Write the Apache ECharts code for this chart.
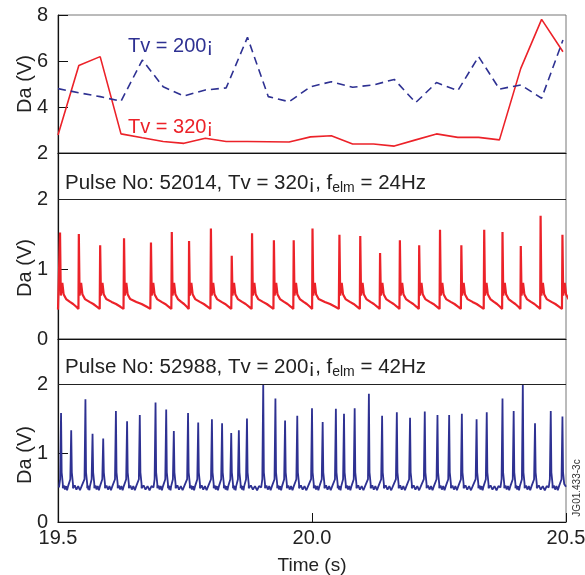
<!DOCTYPE html>
<html>
<head>
<meta charset="utf-8">
<script src="https://cdn.jsdelivr.net/npm/echarts@6/dist/echarts.min.js"></script>
<style>
  html, body { margin: 0; padding: 0; background: #fff; }
  #main { width: 585px; height: 575px; }
</style>
</head>
<body>
<div id="main"></div>
<script>
var FONT = 'Liberation Sans';
var RED = '#ec2229';
var BLUE = '#2e3192';

// top panel: averaged Da, Tv = 320 (red) and Tv = 200 (blue dashed)
var avgTimes = [19.500, 19.541, 19.583, 19.624, 19.666, 19.707, 19.748, 19.790, 19.831, 19.873,
  19.914, 19.955, 19.997, 20.038, 20.080, 20.121, 20.162, 20.204, 20.245, 20.287,
  20.328, 20.369, 20.411, 20.452, 20.494];
var tv320Avg = [2.78, 5.80, 6.19, 2.83, 2.66, 2.50, 2.42, 2.64, 2.50, 2.50,
  2.49, 2.48, 2.70, 2.75, 2.39, 2.39, 2.30, 2.57, 2.83, 2.68,
  2.68, 2.57, 5.68, 7.81, 6.40];
var tv200Avg = [4.80, 4.62, 4.45, 4.25, 6.04, 4.88, 4.48, 4.74, 4.83, 7.03,
  4.45, 4.23, 4.88, 5.10, 4.86, 4.96, 5.20, 4.19, 5.06, 4.71,
  6.19, 4.78, 4.96, 4.38, 6.91];

// pulse 52014 (24Hz): ELM times and peak heights
var redElmTimes = [19.504, 19.541, 19.583, 19.630, 19.683, 19.724, 19.758, 19.801, 19.842, 19.882,
  19.925, 19.964, 20.001, 20.054, 20.095, 20.134, 20.173, 20.211, 20.252, 20.294,
  20.339, 20.375, 20.411, 20.450, 20.493];
var redElmPeaks = [1.52, 1.50, 1.34, 1.44, 1.38, 1.53, 1.40, 1.58, 1.19, 1.51,
  1.41, 1.41, 1.58, 1.49, 1.47, 1.23, 1.41, 1.34, 1.56, 1.34,
  1.56, 1.53, 1.33, 1.76, 1.49];
// trace just after an ELM: [seconds after, V]
var redElmHead = [[0.0015, 0.62], [0.0045, 0.80], [0.007, 0.64], [0.0085, 0.66], [0.012, 0.57]];
// slow decay until the next ELM: [fraction of remaining gap, V]
var redElmTail = [[0.3, 0.53], [0.55, 0.50], [0.8, 0.46], [0.97, 0.43]];

// pulse 52988 (42Hz): ELM times and peak heights
var blueElmTimes = [19.506, 19.526, 19.554, 19.568, 19.589, 19.614, 19.636, 19.661, 19.692, 19.713,
  19.728, 19.756, 19.776, 19.803, 19.823, 19.841, 19.856, 19.872, 19.904, 19.928,
  19.947, 19.971, 20.000, 20.021, 20.047, 20.063, 20.084, 20.112, 20.138, 20.167,
  20.193, 20.222, 20.247, 20.270, 20.295, 20.324, 20.344, 20.375, 20.397, 20.415,
  20.439, 20.470, 20.493];
var blueElmPeaks = [1.58, 1.33, 1.78, 1.28, 1.21, 1.61, 1.46, 1.55, 1.73, 1.63,
  1.32, 1.58, 1.44, 1.49, 1.43, 1.29, 1.33, 1.50, 2.00, 1.79,
  1.47, 1.54, 1.65, 1.45, 1.64, 1.57, 1.65, 1.86, 1.54, 1.59,
  1.51, 1.60, 1.55, 1.55, 1.57, 1.49, 1.59, 1.79, 1.61, 2.00,
  1.43, 1.61, 1.53];
// shape round a spike: [seconds from peak, V]
var blueSpikeRise = [[-0.004, 0.50], [-0.0018, 0.62]];
var blueSpikeFall = [[0.0012, 0.72], [0.0035, 0.55]];
// baseline wiggle between spikes: [fraction of gap, V]
var blueBase = [[0.0, 0.49], [0.17, 0.53], [0.33, 0.47], [0.5, 0.52], [0.67, 0.46], [0.83, 0.52]];

function buildRed() {
  var pts = [[19.5, 0.42]];
  for (var i = 0; i < redElmTimes.length; i++) {
    var t = redElmTimes[i];
    var next = i + 1 < redElmTimes.length ? redElmTimes[i + 1] : t + 0.04;
    pts.push([t - 0.0004, 0.43]);
    pts.push([t, redElmPeaks[i]]);
    redElmHead.forEach(function (p) { pts.push([t + p[0], p[1]]); });
    var start = t + 0.012, gap = next - start;
    redElmTail.forEach(function (p) { pts.push([start + gap * p[0], p[1]]); });
  }
  return pts;
}

function buildBlue() {
  var pts = [];
  var prev = 19.5;
  for (var i = 0; i < blueElmTimes.length; i++) {
    var t = blueElmTimes[i];
    var gap = (t - 0.004) - prev;
    if (gap > 0.004) {
      blueBase.forEach(function (p) { pts.push([prev + gap * p[0], p[1]]); });
    }
    blueSpikeRise.forEach(function (p) { pts.push([t + p[0], p[1]]); });
    pts.push([t, blueElmPeaks[i]]);
    blueSpikeFall.forEach(function (p) { pts.push([t + p[0], p[1]]); });
    prev = t + 0.0035;
  }
  pts.push([20.5, 0.51]);
  return pts;
}

function zip(xs, ys) {
  return xs.map(function (x, i) { return [x, ys[i]]; });
}

var axisLineStyle = { color: '#111', width: 1.2 };

function xAxisFor(idx, showLabels) {
  return {
    type: 'value', gridIndex: idx, min: 19.5, max: 20.5, interval: 0.5,
    axisLine: { show: true, lineStyle: axisLineStyle },
    axisTick: { show: showLabels, inside: true, length: 9, lineStyle: { color: '#111' } },
    axisLabel: {
      show: showLabels, margin: 6, fontFamily: FONT, fontSize: 20, color: '#222',
      formatter: function (v) { return v.toFixed(1); }
    },
    splitLine: { show: false },
    name: showLabels ? 'Time (s)' : '',
    nameLocation: 'middle', nameGap: 34,
    nameTextStyle: { fontFamily: FONT, fontSize: 19, color: '#222' }
  };
}

function yAxisFor(idx, min, max, interval) {
  return {
    type: 'value', gridIndex: idx, min: min, max: max, interval: interval,
    axisLine: { show: true, lineStyle: axisLineStyle },
    axisTick: { show: true, inside: true, length: 10, lineStyle: { color: '#111' } },
    axisLabel: {
      margin: 10, fontFamily: FONT, fontSize: 20, color: '#222',
      showMaxLabel: max % interval === 0,
      formatter: function (v) { return v % 1 === 0 ? String(v) : ''; }
    },
    splitLine: { show: false }
  };
}

function titleText(x, y, head, tail) {
  return {
    type: 'text', x: x, y: y, silent: true,
    style: {
      text: '{a|' + head + '}{s|elm}{a|' + tail + '}',
      fill: '#222', verticalAlign: 'middle', align: 'left',
      rich: {
        a: { fontFamily: FONT, fontSize: 20.5, fill: '#222' },
        s: { fontFamily: FONT, fontSize: 14, fill: '#222', padding: [10, 0, 0, 0] }
      }
    }
  };
}

function yName(y) {
  return {
    type: 'text', x: 25, y: y, rotation: Math.PI / 2, silent: true,
    style: { text: 'Da (V)', fontFamily: FONT, fontSize: 20, fill: '#222', align: 'center', verticalAlign: 'middle' }
  };
}

var chart = echarts.init(document.getElementById('main'), null, { renderer: 'canvas' });

var level2Line = {
  silent: true, symbol: 'none', animation: false,
  label: { show: false },
  lineStyle: { color: '#222', width: 1.2, type: 'solid' },
  data: [{ yAxis: 2 }]
};

chart.setOption({
  animation: false,
  backgroundColor: '#fff',
  grid: [
    { left: 58, width: 508, top: 15, height: 138, show: true, borderColor: '#777', borderWidth: 1, outerBoundsMode: 'none' },
    { left: 58, width: 508, top: 153, height: 186, show: true, borderColor: '#777', borderWidth: 1, outerBoundsMode: 'none' },
    { left: 58, width: 508, top: 339, height: 183, show: true, borderColor: '#777', borderWidth: 1, outerBoundsMode: 'none' }
  ],
  xAxis: [xAxisFor(0, false), xAxisFor(1, false), xAxisFor(2, true)],
  yAxis: [yAxisFor(0, 2, 8, 2), yAxisFor(1, 0, 2.657, 1), yAxisFor(2, 0, 2.652, 1)],
  series: [
    {
      name: 'Tv = 320', type: 'line', xAxisIndex: 0, yAxisIndex: 0,
      data: zip(avgTimes, tv320Avg), symbol: 'none',
      lineStyle: { color: RED, width: 1.6 }
    },
    {
      name: 'Tv = 200', type: 'line', xAxisIndex: 0, yAxisIndex: 0,
      data: zip(avgTimes, tv200Avg), symbol: 'none',
      lineStyle: { color: BLUE, width: 1.6, type: [8, 5] }
    },
    {
      name: '52014', type: 'line', xAxisIndex: 1, yAxisIndex: 1,
      data: buildRed(), symbol: 'none', clip: true,
      lineStyle: { color: RED, width: 2.2 },
      markLine: level2Line
    },
    {
      name: '52988', type: 'line', xAxisIndex: 2, yAxisIndex: 2,
      data: buildBlue(), symbol: 'none', clip: true,
      lineStyle: { color: BLUE, width: 1.8 },
      markLine: level2Line
    }
  ],
  graphic: [
    yName(84), yName(268), yName(455),
    {
      type: 'text', x: 128, y: 46, silent: true,
      style: { text: 'Tv = 200¡', fontFamily: FONT, fontSize: 20, fill: BLUE, verticalAlign: 'middle' }
    },
    {
      type: 'text', x: 128, y: 127, silent: true,
      style: { text: 'Tv = 320¡', fontFamily: FONT, fontSize: 20, fill: RED, verticalAlign: 'middle' }
    },
    titleText(65, 183, 'Pulse No: 52014, Tv = 320¡, f', ' = 24Hz'),
    titleText(65, 367, 'Pulse No: 52988, Tv = 200¡, f', ' = 42Hz'),
    {
      type: 'text', x: 577, y: 488, rotation: Math.PI / 2, silent: true,
      style: { text: 'JG01.433-3c', fontFamily: FONT, fontSize: 10, fill: '#333', align: 'center', verticalAlign: 'middle' }
    }
  ]
});
</script>
</body>
</html>
